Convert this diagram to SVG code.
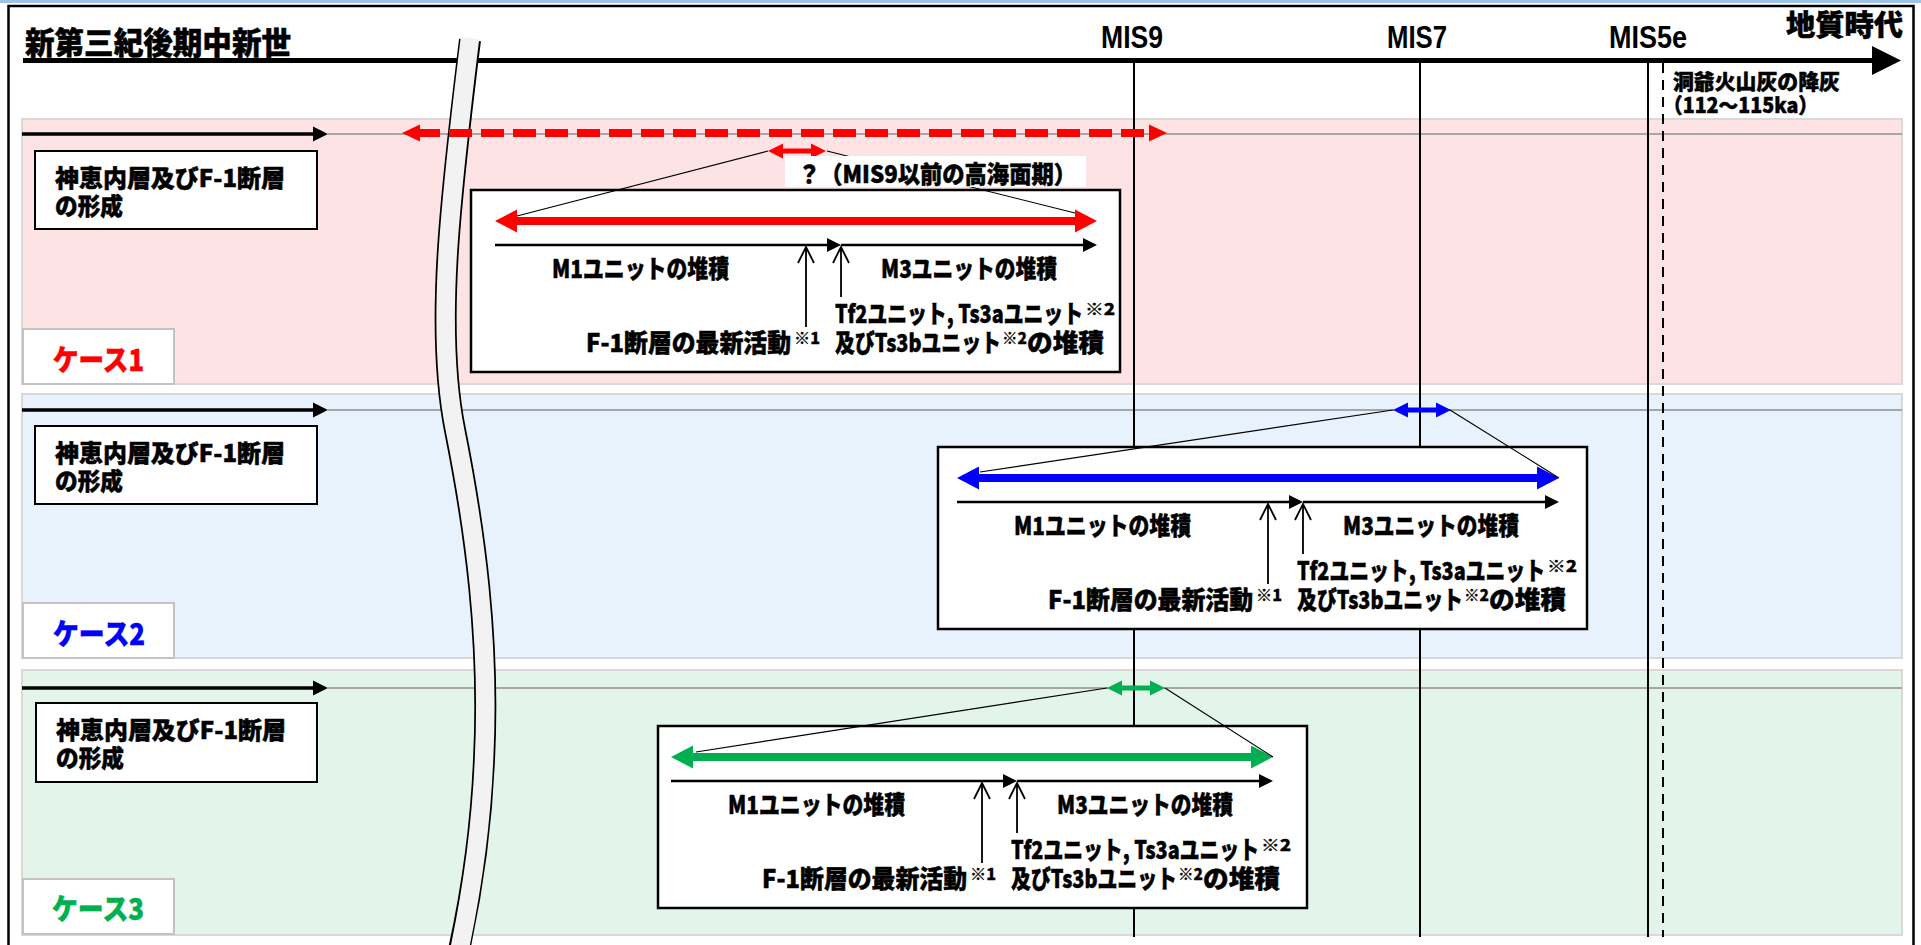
<svg xmlns="http://www.w3.org/2000/svg" xmlns:xlink="http://www.w3.org/1999/xlink" width="1921" height="945" viewBox="0 0 1921 945">
<style>
.t{font-family:"Noto Sans CJK JP","Noto Sans",sans-serif;font-weight:900;fill:#000;stroke:#000;stroke-width:0.5}
.l{font-family:"Liberation Sans",Arial,sans-serif;font-weight:700;fill:#000}
.band{stroke:#d9d9d9;stroke-width:2}
.gl{stroke:#a6a6a6;stroke-width:2;fill:none}
.vl{stroke:#000;stroke-width:2;fill:none}
.lbl{fill:#fff;stroke:#000;stroke-width:2}
.cbox{fill:#fff;stroke:#c3c3c3;stroke-width:2}
.dbox{fill:#fff;stroke:#000;stroke-width:2.5}
.bl{stroke:#000;stroke-width:2.5;fill:none}
.thin{stroke:#000;stroke-width:1.2;fill:none}
.up{stroke:#000;stroke-width:1.8;fill:none}
.sup{font-size:16px;stroke-width:0.3}
</style>
<defs>
<polygon id="ba" points="0,0 22,-11.5 22,-4 580,-4 580,-11.5 602,0 580,11.5 580,4 22,4 22,11.5"/>
<polygon id="sa" points="0,0 15,-7.5 15,-2.5 43,-2.5 43,-7.5 58,0 43,7.5 43,2.5 15,2.5 15,7.5"/>
<g id="inner">
<path class="bl" d="M0,24 H333"/>
<polygon points="332,17 346,24 332,31"/>
<path class="bl" d="M346,24 H589"/>
<polygon points="588,17 602,24 588,31"/>
<path class="up" d="M311,106 V27 M303,42 L311,26 L319,42"/>
<path class="up" d="M346,76 V27 M338,42 L346,26 L354,42"/>
<text class="t" x="57" y="57" font-size="25" textLength="177" lengthAdjust="spacingAndGlyphs">M1ユニットの堆積</text>
<text class="t" x="386" y="57" font-size="25" textLength="176" lengthAdjust="spacingAndGlyphs">M3ユニットの堆積</text>
<text class="t" x="340" y="102" font-size="25" textLength="248" lengthAdjust="spacingAndGlyphs">Tf2ユニット, Ts3aユニット</text>
<text class="t sup" x="590" y="94" textLength="30" lengthAdjust="spacingAndGlyphs">※2</text>
<text class="t" x="340" y="131" font-size="25" textLength="166" lengthAdjust="spacingAndGlyphs">及びTs3bユニット</text>
<text class="t sup" x="507" y="123" textLength="25" lengthAdjust="spacingAndGlyphs">※2</text>
<text class="t" x="532" y="131" font-size="25" textLength="77" lengthAdjust="spacingAndGlyphs">の堆積</text>
<text class="t" x="91" y="131" font-size="25" textLength="205" lengthAdjust="spacingAndGlyphs">F-1断層の最新活動</text>
<text class="t sup" x="299" y="123" textLength="26" lengthAdjust="spacingAndGlyphs">※1</text>
</g>
</defs>
<rect x="0" y="0" width="1921" height="945" fill="#fff"/>
<rect x="0" y="0" width="1921" height="3" fill="#9dc3e6"/>

<g id="bands">
<rect class="band" x="22" y="119" width="1880" height="265" fill="#fee3e4"/>
<rect class="band" x="22" y="394" width="1880" height="264" fill="#e8f2fc"/>
<rect class="band" x="22" y="670" width="1880" height="265" fill="#e3f4ea"/>
<path class="gl" d="M328,134 H1902 M328,410 H1902 M328,688 H1902"/>
</g>

<g id="timeline">
<path class="vl" d="M1134,63 V937 M1420,63 V937 M1648,63 V937"/>
<path d="M1663,63 V937" stroke="#000" stroke-width="2" stroke-dasharray="10 7"/>
<path d="M23,60.5 H1874" stroke="#000" stroke-width="5"/>
<polygon points="1872,46 1901,60.5 1872,75"/>
</g>

<g id="break">
<path d="M470,40 C450,200 435,330 455,430 C475,530 490,640 484,760 C481,830 470,900 459,950" fill="none" stroke="#000" stroke-width="22"/>
<path d="M470,38 C450,200 435,330 455,430 C475,530 490,640 484,760 C481,830 470,900 459,952" fill="none" stroke="#f2f2f2" stroke-width="18.5"/>
</g>

<g id="connectors">
<path d="M22,134 H314 M22,410 H314 M22,688 H314" stroke="#000" stroke-width="3.3"/>
<polygon points="313,126.5 328,134 313,141.5"/>
<polygon points="313,402.5 328,410 313,417.5"/>
<polygon points="313,680.5 328,688 313,695.5"/>
<path d="M417,133 H1152" stroke="#ff0000" stroke-width="8" stroke-dasharray="23 9"/>
<polygon points="402,133 420,124.5 420,141.5" fill="#ff0000"/>
<polygon points="1167,133 1149,124.5 1149,141.5" fill="#ff0000"/>
</g>

<g id="formation1">
<rect class="lbl" x="35" y="151" width="282" height="78"/>
<text class="t" font-size="24"><tspan x="55" y="187" textLength="230" lengthAdjust="spacingAndGlyphs">神恵内層及びF-1断層</tspan><tspan x="55" y="215" textLength="68" lengthAdjust="spacingAndGlyphs">の形成</tspan></text>
</g>
<g id="formation2">
<rect class="lbl" x="35" y="426" width="282" height="78"/>
<text class="t" font-size="24"><tspan x="55" y="462" textLength="230" lengthAdjust="spacingAndGlyphs">神恵内層及びF-1断層</tspan><tspan x="55" y="490" textLength="68" lengthAdjust="spacingAndGlyphs">の形成</tspan></text>
</g>
<g id="formation3">
<rect class="lbl" x="36" y="703" width="281" height="79"/>
<text class="t" font-size="24"><tspan x="56" y="739" textLength="230" lengthAdjust="spacingAndGlyphs">神恵内層及びF-1断層</tspan><tspan x="56" y="767" textLength="68" lengthAdjust="spacingAndGlyphs">の形成</tspan></text>
</g>

<g id="case1label">
<rect class="cbox" x="23" y="329" width="151" height="55"/>
<text class="t" x="53" y="371" font-size="29" style="fill:#ff0000;stroke:#ff0000" textLength="91" lengthAdjust="spacingAndGlyphs">ケース1</text>
</g>
<g id="case2label">
<rect class="cbox" x="23" y="603" width="151" height="55"/>
<text class="t" x="53" y="645" font-size="29" style="fill:#0000ff;stroke:#0000ff" textLength="92" lengthAdjust="spacingAndGlyphs">ケース2</text>
</g>
<g id="case3label">
<rect class="cbox" x="23" y="879" width="151" height="55"/>
<text class="t" x="52" y="920" font-size="29" style="fill:#00b050;stroke:#00b050" textLength="92" lengthAdjust="spacingAndGlyphs">ケース3</text>
</g>

<g id="case1detail">
<g transform="translate(495,221)">
<rect class="dbox" x="-24" y="-31" width="649" height="182"/>
<use xlink:href="#ba" href="#ba" fill="#ff0000"/>
<use xlink:href="#inner" href="#inner"/>
</g>
<use xlink:href="#sa" href="#sa" x="768" y="151" fill="#ff0000"/>
<path class="thin" d="M768,151 L517,216 M827,151 L1075,213"/>
<rect x="785" y="156" width="301" height="31" fill="#fff"/>
<text class="t" x="798" y="183" font-size="24" textLength="278" lengthAdjust="spacingAndGlyphs">？（MIS9以前の高海面期）</text>
</g>

<g id="case2detail">
<g transform="translate(957,478)">
<rect class="dbox" x="-19" y="-31" width="649" height="182"/>
<use xlink:href="#ba" href="#ba" fill="#0000ff"/>
<use xlink:href="#inner" href="#inner"/>
</g>
<use xlink:href="#sa" href="#sa" x="1393" y="410" fill="#0000ff"/>
<path class="thin" d="M1393,410 L980,472 M1450,410 L1559,478"/>
</g>

<g id="case3detail">
<g transform="translate(671,757)">
<rect class="dbox" x="-13" y="-31" width="649" height="182"/>
<use xlink:href="#ba" href="#ba" fill="#00b050"/>
<use xlink:href="#inner" href="#inner"/>
</g>
<use xlink:href="#sa" href="#sa" x="1107" y="688" fill="#00b050"/>
<path class="thin" d="M1107,688 L696,752 M1165,688 L1273,757"/>
</g>

<g id="header">
<text class="t" x="25" y="54" font-size="31" textLength="266" lengthAdjust="spacingAndGlyphs">新第三紀後期中新世</text>
<text class="l" x="1101" y="48" font-size="32" textLength="62" lengthAdjust="spacingAndGlyphs">MIS9</text>
<text class="l" x="1387" y="48" font-size="32" textLength="60" lengthAdjust="spacingAndGlyphs">MIS7</text>
<text class="l" x="1609" y="48" font-size="32" textLength="78" lengthAdjust="spacingAndGlyphs">MIS5e</text>
<text class="t" x="1786" y="36" font-size="29" textLength="117" lengthAdjust="spacingAndGlyphs">地質時代</text>
<text class="t" font-size="21"><tspan x="1673" y="89" textLength="167" lengthAdjust="spacingAndGlyphs">洞爺火山灰の降灰</tspan><tspan x="1663" y="113" textLength="155" lengthAdjust="spacingAndGlyphs">（112～115ka）</tspan></text>
</g>

<rect x="8.5" y="6" width="1905" height="960" fill="none" stroke="#000" stroke-width="2.5"/>
</svg>
